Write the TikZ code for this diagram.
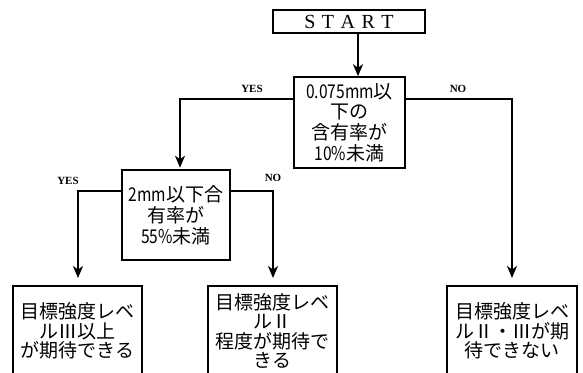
\documentclass[tikz,border=0pt]{standalone}
\usepackage{fontspec}
\usepackage{graphicx}
\setmainfont{Liberation Serif}
\newfontfamily\jp{Noto Sans CJK JP}
\newcommand{\nm}[1]{\scalebox{0.82}[1]{#1}}
\usetikzlibrary{arrows.meta}
\begin{document}
\begin{tikzpicture}[x=1pt,y=-1pt,
  line width=1.5pt,
  box/.style={draw, line width=1.6pt, inner sep=0pt, align=center},
  startbox/.style={draw, line width=1.5pt, inner sep=0pt, minimum width=152pt, minimum height=23pt},
  arr/.style={-{Stealth[length=12pt,width=10pt,inset=3.5pt]}, line width=1.6pt},
  lab/.style={font=\bfseries\fontsize{11}{11}\selectfont, inner sep=0pt}]
\useasboundingbox (0,0) rectangle (583,372);
\node[startbox] (start) at (349,21.5) {\fontsize{20}{20}\selectfont S\hspace{6.5pt}T\hspace{6.5pt}A\hspace{6.5pt}R\hspace{6.5pt}T};
\node[box, font=\jp\fontsize{19}{20.6}\selectfont, minimum width=111pt, minimum height=91pt] (q1) at (349.5,122.5)
  {\nm{0.075mm}以\\下の\\含有率が\\\nm{10\%}未満};
\node[box, font=\jp\fontsize{19}{21}\selectfont, minimum width=108pt, minimum height=90pt] (q2) at (176,215)
  {\nm{2mm}以下合\\有率が\\\nm{55\%}未満};
\node[box, font=\jp\fontsize{19}{19.5}\selectfont, anchor=north, minimum width=129pt, minimum height=90pt] (r1) at (77.5,285)
  {目標強度レベ\\ルⅢ以上\\が期待できる};
\node[box, font=\jp\fontsize{19}{19.5}\selectfont, anchor=north, minimum width=129pt, minimum height=90pt] (r2) at (272.5,285)
  {目標強度レベ\\ルⅡ\\程度が期待で\\きる};
\node[box, font=\jp\fontsize{19}{19.5}\selectfont, anchor=north, minimum width=130pt, minimum height=90pt] (r3) at (512,285)
  {目標強度レベ\\ルⅡ・Ⅲが期\\待できない};
\node[lab] (y1) at (252,89) {YES};
\node[lab] (n1) at (458,89) {NO};
\node[lab] (y2) at (68,181) {YES};
\node[lab] (n2) at (273,178) {NO};
\coordinate (s1) at (358,0);
\coordinate (yt1) at (180,99);
\coordinate (nt1) at (512,99);
\coordinate (yt2) at (78,191);
\coordinate (nt2) at (273,191);
\draw[arr] (start.south -| s1) -- (q1.north -| s1);
\draw[arr, shorten >=1.5pt] (q1.west |- yt1) -- (yt1) -- (q2.north -| yt1);
\draw[arr, shorten >=7pt] (q1.east |- nt1) -- (nt1) -- (r3.north -| nt1);
\draw[arr, shorten >=7pt] (q2.west |- yt2) -- (yt2) -- (r1.north -| yt2);
\draw[arr, shorten >=7pt] (q2.east |- nt2) -- (nt2) -- (r2.north -| nt2);
\end{tikzpicture}
\end{document}
